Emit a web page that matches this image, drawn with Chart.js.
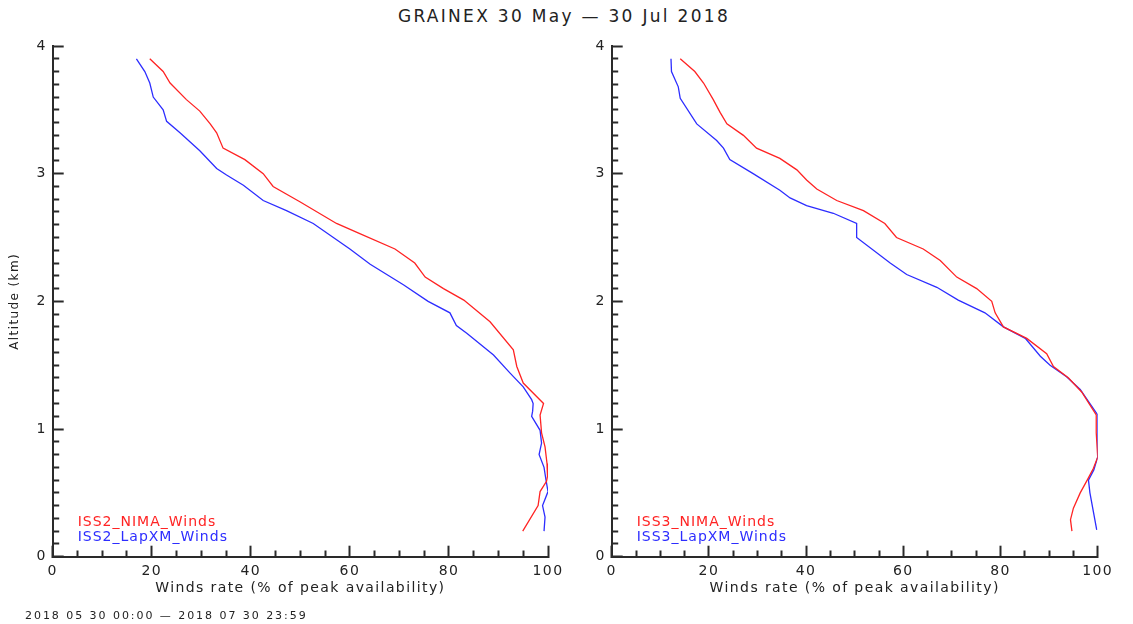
<!DOCTYPE html>
<html><head><meta charset="utf-8">
<script src="https://cdn.jsdelivr.net/npm/chart.js@4/dist/chart.umd.min.js"></script>
<style>
html,body{margin:0;padding:0;background:#fff;width:1133px;height:624px;overflow:hidden;position:relative;font-family:"DejaVu Sans",sans-serif;}
#title{position:absolute;top:6px;left:0;width:1128px;text-align:center;font-size:17px;letter-spacing:2.3px;color:#222;}
#footer{position:absolute;left:25px;top:609px;font-size:11px;letter-spacing:1.95px;color:#222;}
.wrap{position:absolute;top:0;height:624px;}
</style></head><body>
<div id="title">GRAINEX 30 May — 30 Jul 2018</div>
<div class="wrap" style="left:0;width:570px"><canvas id="c1"></canvas></div>
<div class="wrap" style="left:570px;width:563px"><canvas id="c2"></canvas></div>
<div id="footer">2018 05 30 00:00 — 2018 07 30 23:59</div>
<script>
// ---- data (altitude in km, winds rate in % of peak availability) ----
const iss2NimaAlt  = [3.90,3.80,3.71,3.58,3.49,3.39,3.32,3.20,3.11,3.00,2.90,2.78,2.61,2.53,2.41,2.30,2.19,2.10,2.01,1.84,1.62,1.49,1.36,1.20,1.11,0.97,0.86,0.73,0.63,0.59,0.51,0.40,0.20];
const iss2NimaRate = [19.6,22.3,23.7,27.0,29.7,31.8,33.1,34.4,38.8,42.5,44.5,49.9,57.3,62.0,69.1,73.1,75.2,78.9,83.0,88.3,93.0,93.7,95.0,99.1,98.4,98.7,99.4,99.8,99.9,99.7,98.4,98.0,94.9];
const iss2LapAlt   = [3.90,3.80,3.71,3.60,3.50,3.41,3.32,3.18,3.04,2.99,2.91,2.79,2.71,2.61,2.41,2.29,2.13,2.00,1.91,1.81,1.75,1.58,1.44,1.33,1.23,1.20,1.14,1.10,0.99,0.89,0.80,0.70,0.60,0.51,0.40,0.31,0.20];
const iss2LapRate  = [16.9,18.6,19.6,20.3,22.3,23.0,25.7,29.7,33.1,35.1,38.5,42.5,47.2,52.6,60.0,64.1,70.8,75.8,80.2,81.5,83.6,89.0,92.3,95.0,96.7,97.0,96.9,96.7,98.4,98.7,98.2,99.2,99.6,100,98.9,99.4,99.2];
const iss3NimaAlt  = [3.90,3.80,3.71,3.58,3.48,3.39,3.30,3.20,3.12,3.03,2.95,2.88,2.79,2.71,2.61,2.50,2.41,2.32,2.19,2.10,2.00,1.91,1.80,1.71,1.59,1.49,1.40,1.29,1.11,0.97,0.78,0.69,0.59,0.50,0.38,0.29,0.20];
const iss3NimaRate = [14.1,17.1,18.9,20.9,22.3,23.7,27.1,29.8,34.6,38.1,40.1,42.2,46.3,51.8,56.2,58.6,64.1,67.6,71.0,75.1,78.2,78.9,80.6,85.4,89.5,90.9,94.0,96.7,99.7,99.7,100,99.1,97.7,96.4,95.0,94.4,94.7];
const iss3LapAlt   = [3.90,3.80,3.68,3.59,3.39,3.26,3.20,3.11,3.00,2.87,2.81,2.75,2.69,2.61,2.50,2.30,2.21,2.11,2.01,1.91,1.80,1.71,1.57,1.50,1.41,1.31,1.11,0.78,0.68,0.60,0.50,0.21];
const iss3LapRate  = [12.2,12.3,13.7,14.1,17.5,21.6,23.0,24.3,29.1,34.6,36.7,40.1,45.6,50.4,50.4,57.3,60.7,66.9,71.3,76.8,80.6,85.1,88.2,90.2,93.6,96.4,100,100,99.2,98.1,98.4,99.8];
const rateRange = [0, 100], rateTickStep = 20, rateMinorStep = 5;
const altRange = [0, 4], altTickStep = 1, altMinorStep = 0.1;
const seriesLabels = ["ISS2_NIMA_Winds","ISS2_LapXM_Winds","ISS3_NIMA_Winds","ISS3_LapXM_Winds"];

const RED = 'rgb(255,35,35)', BLUE = 'rgb(45,45,255)', AXIS = '#2a2a2a', TXT = '#222';
const FONT = '"DejaVu Sans", sans-serif';
const MAJOR = 11, MINOR = 6.5;

function pts(alt, rate){ return alt.map((a,i)=>({x:rate[i], y:a})); }
function tickValues(range, step){
  const n = Math.round((range[1]-range[0])/step), out = [];
  for (let i=0;i<=n;i++) out.push({value: Math.round((range[0]+i*step)*1000)/1000});
  return out;
}
function isMajor(v, step){ return Math.abs(v/step - Math.round(v/step)) < 1e-6; }

const spacing = {
  id:'spacing',
  beforeUpdate(chart){ chart.ctx.letterSpacing = '1.4px'; },
  beforeDraw(chart){ chart.ctx.letterSpacing = '1.4px'; }
};
const textLegend = {
  id:'textLegend',
  afterDraw(chart){
    const {ctx, chartArea:a} = chart;
    ctx.save();
    ctx.font = '14px ' + FONT; ctx.letterSpacing = '1px'; ctx.textBaseline = 'middle'; ctx.textAlign='left';
    chart.data.datasets.forEach((d,i)=>{ ctx.fillStyle = d.borderColor; ctx.fillText(d.label, a.left + 25, a.bottom - 34 + 15*i); });
    ctx.restore();
  }
};

function makeChart(id, sets, yWidth, showYTitle, padRight){
  return new Chart(document.getElementById(id), {
    type:'scatter',
    data:{ datasets: sets.map(s=>({label:s.label, data:s.data, borderColor:s.color, backgroundColor:s.color,
      showLine:true, pointRadius:0, borderWidth:1.3, tension:0, fill:false})) },
    options:{
      responsive:true, maintainAspectRatio:false, animation:false,
      layout:{padding:{top:46, right:padRight, bottom:25.3, left:0}},
      plugins:{legend:{display:false}, tooltip:{enabled:false}, title:{display:false}},
      scales:{
        x:{type:'linear', min:rateRange[0], max:rateRange[1],
          afterBuildTicks:s=>{ s.ticks = tickValues(rateRange, rateMinorStep); },
          ticks:{autoSkip:false, maxRotation:0, font:{family:FONT,size:14}, color:TXT, padding:MAJOR+6,
            callback:v=> isMajor(v, rateTickStep) ? String(v) : ''},
          grid:{display:true, drawOnChartArea:false, drawTicks:true, tickLength:-MAJOR, tickWidth:2, tickColor:AXIS,
            tickBorderDash:c=> isMajor(c.tick.value, rateTickStep) ? [] : [MINOR+1, 100]},
          border:{display:true, color:AXIS, width:2},
          title:{display:true, text:'Winds rate (% of peak availability)', font:{family:FONT,size:14}, color:TXT, padding:{top:0,bottom:2.3}},
          afterFit:s=>{ s.height=42; s.paddingLeft=0; s.paddingRight=0; }
        },
        y:{type:'linear', min:altRange[0], max:altRange[1],
          afterBuildTicks:s=>{ s.ticks = tickValues(altRange, altMinorStep); },
          ticks:{autoSkip:false, font:{family:FONT,size:14}, color:TXT, padding:MAJOR+6,
            callback:v=> isMajor(v, altTickStep) ? String(Math.round(v)) : ''},
          grid:{display:true, drawOnChartArea:false, drawTicks:true, tickLength:-MAJOR, tickWidth:2, tickColor:AXIS,
            tickBorderDash:c=> isMajor(c.tick.value, altTickStep) ? [] : [0, MAJOR-MINOR, MINOR+1, 100]},
          border:{display:true, color:AXIS, width:2},
          title:{display:showYTitle, text:'Altitude (km)', font:{family:FONT,size:12}, color:TXT, padding:{top:7.8,bottom:0}},
          afterFit:s=>{ s.width=yWidth; s.paddingTop=0; s.paddingBottom=0; }
        }
      }
    },
    plugins:[spacing, textLegend]
  });
}

makeChart('c1', [
  {label:seriesLabels[0], data:pts(iss2NimaAlt, iss2NimaRate), color:RED},
  {label:seriesLabels[1], data:pts(iss2LapAlt, iss2LapRate), color:BLUE}
], 52.7, true, 22);
makeChart('c2', [
  {label:seriesLabels[2], data:pts(iss3NimaAlt, iss3NimaRate), color:RED},
  {label:seriesLabels[3], data:pts(iss3LapAlt, iss3LapRate), color:BLUE}
], 41.7, false, 35.3);
</script>
</body></html>
